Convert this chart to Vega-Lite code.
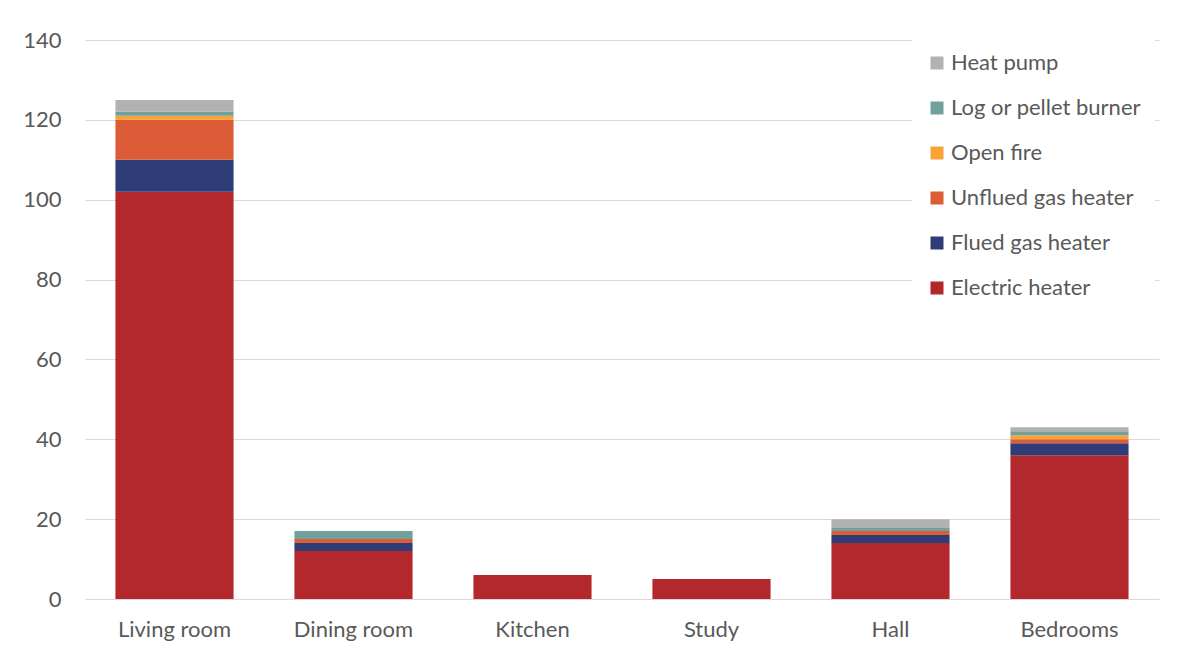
{
  "$schema": "https://vega.github.io/schema/vega-lite/v6.json",
  "width": 1074,
  "height": 559,
  "autosize": {"type": "none"},
  "padding": {"left": 85, "top": 40, "right": 22, "bottom": 53},
  "background": "white",
  "config": {
    "view": {"stroke": null},
    "font": "Lato",
    "axis": {"labelColor": "#595959", "labelFont": "Lato", "labelFontSize": 22, "title": null, "ticks": false, "gridColor": "#D9D9D9", "domainColor": "#D9D9D9"}
  },
  "data": {
    "values": [
      {"room": "Living room", "type": "Electric heater", "k": 1, "count": 102},
      {"room": "Living room", "type": "Flued gas heater", "k": 2, "count": 8},
      {"room": "Living room", "type": "Unflued gas heater", "k": 3, "count": 10},
      {"room": "Living room", "type": "Open fire", "k": 4, "count": 1},
      {"room": "Living room", "type": "Log or pellet burner", "k": 5, "count": 1},
      {"room": "Living room", "type": "Heat pump", "k": 6, "count": 3},
      {"room": "Dining room", "type": "Electric heater", "k": 1, "count": 12},
      {"room": "Dining room", "type": "Flued gas heater", "k": 2, "count": 2},
      {"room": "Dining room", "type": "Unflued gas heater", "k": 3, "count": 1},
      {"room": "Dining room", "type": "Open fire", "k": 4, "count": 0},
      {"room": "Dining room", "type": "Log or pellet burner", "k": 5, "count": 2},
      {"room": "Dining room", "type": "Heat pump", "k": 6, "count": 0},
      {"room": "Kitchen", "type": "Electric heater", "k": 1, "count": 6},
      {"room": "Study", "type": "Electric heater", "k": 1, "count": 5},
      {"room": "Hall", "type": "Electric heater", "k": 1, "count": 14},
      {"room": "Hall", "type": "Flued gas heater", "k": 2, "count": 2},
      {"room": "Hall", "type": "Unflued gas heater", "k": 3, "count": 1},
      {"room": "Hall", "type": "Open fire", "k": 4, "count": 0},
      {"room": "Hall", "type": "Log or pellet burner", "k": 5, "count": 1},
      {"room": "Hall", "type": "Heat pump", "k": 6, "count": 2},
      {"room": "Bedrooms", "type": "Electric heater", "k": 1, "count": 36},
      {"room": "Bedrooms", "type": "Flued gas heater", "k": 2, "count": 3},
      {"room": "Bedrooms", "type": "Unflued gas heater", "k": 3, "count": 1},
      {"room": "Bedrooms", "type": "Open fire", "k": 4, "count": 1},
      {"room": "Bedrooms", "type": "Log or pellet burner", "k": 5, "count": 1},
      {"room": "Bedrooms", "type": "Heat pump", "k": 6, "count": 1}
    ]
  },
  "mark": {"type": "bar"},
  "encoding": {
    "x": {
      "field": "room", "type": "nominal",
      "sort": ["Living room", "Dining room", "Kitchen", "Study", "Hall", "Bedrooms"],
      "scale": {"paddingInner": 0.34, "paddingOuter": 0.17},
      "axis": {"labelAngle": 0, "labelPadding": 20, "grid": false, "domainColor": "#D9D9D9"}
    },
    "y": {
      "field": "count", "type": "quantitative", "stack": "zero",
      "scale": {"domain": [0, 140]},
      "axis": {"values": [0, 20, 40, 60, 80, 100, 120, 140], "domain": false, "labelPadding": 24, "gridColor": "#D9D9D9"}
    },
    "color": {
      "field": "type", "type": "nominal",
      "scale": {
        "domain": ["Heat pump", "Log or pellet burner", "Open fire", "Unflued gas heater", "Flued gas heater", "Electric heater"],
        "range": ["#B2B2B2", "#72A09D", "#F9A23A", "#DD5C38", "#2E3C77", "#B3282D"]
      },
      "legend": {
        "title": null,
        "orient": "none",
        "legendX": 827,
        "legendY": -2,
        "fillColor": "white",
        "padding": 14,
        "symbolType": "square",
        "symbolSize": 169,
        "symbolStrokeWidth": 0,
        "labelFontSize": 22,
        "labelFont": "Lato",
        "labelColor": "#595959",
        "labelOffset": 3,
        "rowPadding": 23,
        "labelLimit": 300
      }
    },
    "order": {"field": "k", "type": "quantitative", "sort": "ascending"}
  }
}
